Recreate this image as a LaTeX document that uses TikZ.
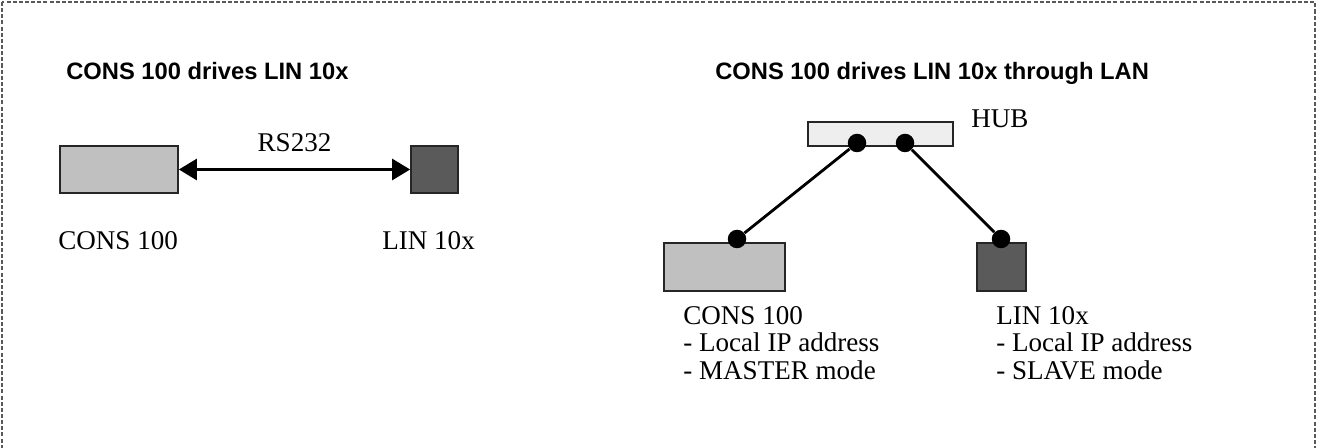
\documentclass[tikz,border=0pt]{standalone}
\usepackage{fontspec}
\setmainfont{Liberation Serif}
\setsansfont{Liberation Sans}
\usetikzlibrary{arrows.meta}
\definecolor{consgray}{HTML}{C0C0C0}
\definecolor{lingray}{HTML}{5A5A5A}
\definecolor{hubgray}{HTML}{EEEEEE}
\tikzset{
	box/.style={draw=black!85, line width=1pt, inner sep=0pt},
	port/.style={circle, fill=black, inner sep=0pt, minimum size=0.37cm},
	lbl/.style={font=\fontsize{15.4}{15.7}\selectfont, inner sep=0pt},
	heading/.style={font=\sffamily\bfseries\fontsize{13.5}{16}\selectfont, inner sep=0pt},
	wire/.style={line width=1.6pt},
}
\begin{document}
\begin{tikzpicture}[x=0.02cm, y=-0.02cm]
	\useasboundingbox (0,0) rectangle (1318,448);
	\draw [black!65, line width=0.6pt, dash pattern=on 2.3pt off 1.2pt] (2,2) rectangle (1315,452);
	
	% direct link
	\node (T1) at (66,80) [heading, anchor=base west] {CONS 100 drives LIN 10x};
	\node (C1) at (119,169.5) [box, fill=consgray, minimum width=2.36cm, minimum height=0.94cm] {};
	\node (L1) at (434.5,169.5) [box, fill=lingray, minimum width=0.94cm, minimum height=0.94cm] {};
	\node (CT1) at (58,250) [lbl, anchor=base west] {CONS 100};
	\node (LT1) at (382,250) [lbl, anchor=base west] {LIN 10x};
	
	\draw [{Triangle[length=0.36cm,width=0.42cm]}-{Triangle[length=0.36cm,width=0.42cm]}, wire] (C1.east) -- (L1.west) node[midway, above=0.33cm, lbl] {RS232};
	
	% link through the hub
	\node (T2) at (715,80) [heading, anchor=base west] {CONS 100 drives LIN 10x through LAN};
	\node (H) at (880.5,134) [box, fill=hubgray, minimum width=2.9cm, minimum height=0.48cm] {};
	\node (HT) at (971,128) [lbl, anchor=base west] {HUB};
	\node (C2) at (724.5,267) [box, fill=consgray, minimum width=2.42cm, minimum height=0.96cm] {};
	\node (L2) at (1001.5,267) [box, fill=lingray, minimum width=0.98cm, minimum height=0.96cm] {};
	
	\node (HP1) at (857,143) [port] {};
	\node (HP2) at (905,143) [port] {};
	\node (CP) at (737,239) [port] {};
	\node (LP) at (1001,239) [port] {};
	
	\draw [wire] (HP1) -- (CP);
	\draw [wire] (HP2) -- (LP);
	
	\node (CT2) at (683,306) [lbl, anchor=north west, align=left] {CONS 100\\- Local IP address\\- MASTER mode};
	\node (LT2) at (996,306) [lbl, anchor=north west, align=left] {LIN 10x\\- Local IP address\\- SLAVE mode};
\end{tikzpicture}
\end{document}
